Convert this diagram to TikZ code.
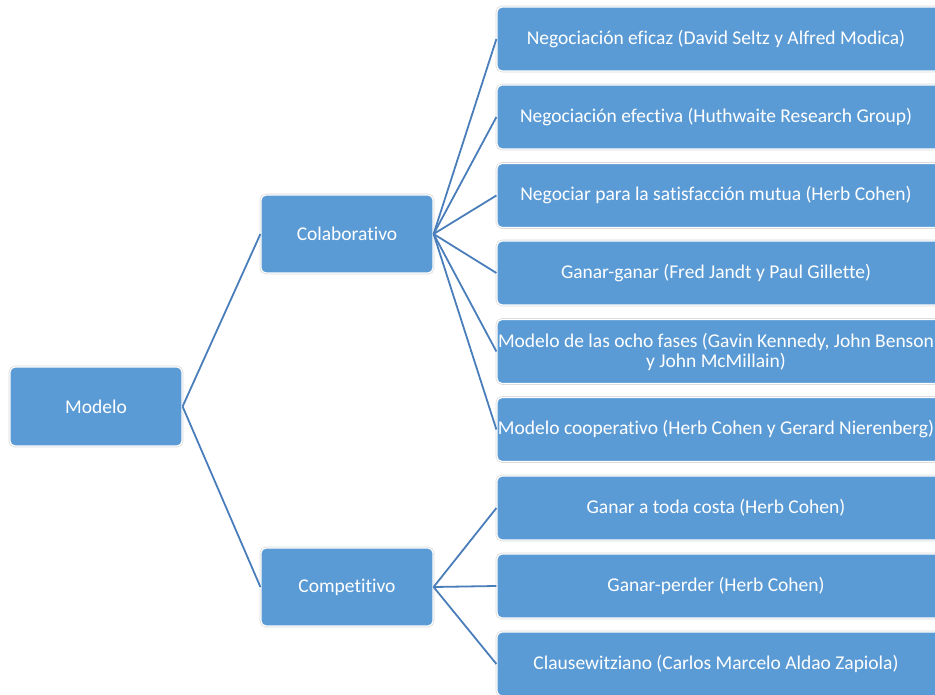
\documentclass[tikz,border=0pt]{standalone}
\usepackage{fontspec}
\setmainfont{Carlito}[RawFeature={-liga;-clig;-dlig;-calt}]
\definecolor{boxfill}{HTML}{5B9BD5}
\definecolor{linkcol}{HTML}{4A7EBB}
\begin{document}
\begin{tikzpicture}[x=1pt,y=-1pt,
  box/.style={rectangle, rounded corners=5pt, fill=boxfill, draw=white, line width=1.2pt,
    preaction={draw=black!15, line width=2.6pt}, font=\fontsize{19.5}{20}\selectfont, text=white,
    inner sep=0pt, align=center},
  leaf/.style={box, minimum width=452pt, minimum height=64pt},
  mid/.style={box, minimum width=172pt, minimum height=78pt},
  lbl/.style={font=\fontsize{19.5}{20}\selectfont, text=white, align=center, inner sep=0pt},
  link/.style={draw=linkcol, line width=1.8pt}]
\useasboundingbox (0,0) rectangle (935,695);
\node[mid, minimum height=79pt] (modelo) at (96,406.5) {Modelo};
\node[mid] (colab) at (347,234) {Colaborativo};
\node[mid] (comp) at (347,587) {Competitivo};
\foreach \i/\y in {1/39, 2/117, 3/195.5, 4/273, 5/351.5, 6/429.5, 7/508, 8/586, 9/664}{
  \node[leaf] (r\i) at (723,\y) {};
}
\node[lbl] (t1) at (716,39) {Negociación eficaz (David Seltz y Alfred Modica)};
\node[lbl] (t2) at (716,117) {Negociación efectiva (Huthwaite Research Group)};
\node[lbl] (t3) at (716,195.5) {Negociar para la satisfacción mutua (Herb Cohen)};
\node[lbl] (t4) at (716,273) {Ganar-ganar (Fred Jandt y Paul Gillette)};
\node[lbl] (t5) at (716,351.5) {Modelo de las ocho fases (Gavin Kennedy, John Benson\\y John McMillain)};
\node[lbl] (t6) at (716,429.5) {Modelo cooperativo (Herb Cohen y Gerard Nierenberg)};
\node[lbl] (t7) at (716,508) {Ganar a toda costa (Herb Cohen)};
\node[lbl] (t8) at (716,586) {Ganar-perder (Herb Cohen)};
\node[lbl] (t9) at (716,664) {Clausewitziano (Carlos Marcelo Aldao Zapiola)};
\draw[link] (modelo.east) -- (colab.west);
\draw[link] (modelo.east) -- (comp.west);
\foreach \i in {1,...,6}{\draw[link] (colab.east) -- (r\i.west);}
\foreach \i in {7,8,9}{\draw[link] (comp.east) -- (r\i.west);}
\end{tikzpicture}
\end{document}
